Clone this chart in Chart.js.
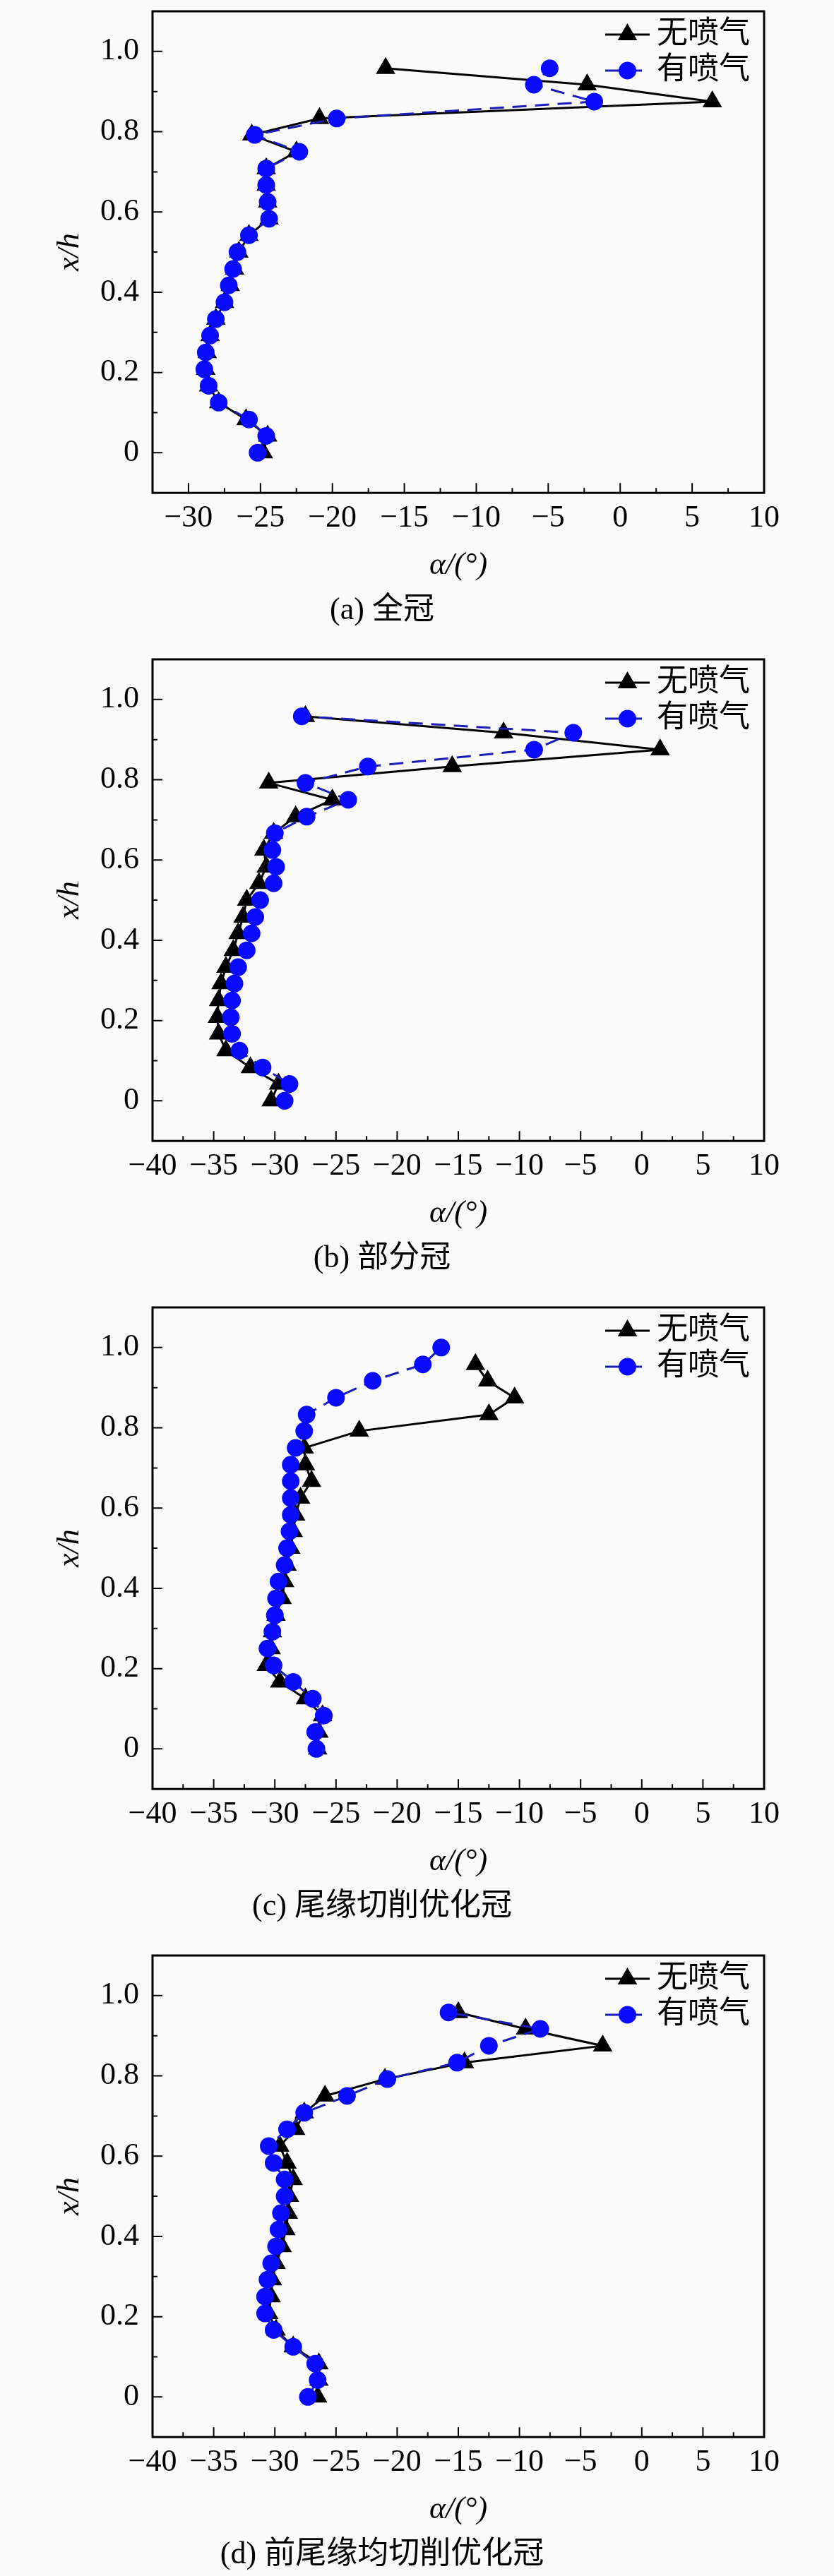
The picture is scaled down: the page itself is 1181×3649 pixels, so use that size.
<!DOCTYPE html>
<html>
<head>
<meta charset="utf-8">
<script src="https://cdn.jsdelivr.net/npm/chart.js@4.4.1/dist/chart.umd.min.js"></script>
<style>
  html, body { margin: 0; padding: 0; background: #fafafa; }
  body { width: 1181px; height: 3649px; overflow: hidden; position: relative; }
  .panel { position: absolute; left: 0; width: 1181px; height: 918px; }
</style>
</head>
<body>
<div class="panel" style="top:0px"><canvas id="chartA" width="1181" height="918"></canvas></div>
<div class="panel" style="top:918px"><canvas id="chartB" width="1181" height="918"></canvas></div>
<div class="panel" style="top:1836px"><canvas id="chartC" width="1181" height="918"></canvas></div>
<div class="panel" style="top:2754px"><canvas id="chartD" width="1181" height="918"></canvas></div>
<script>
// x/h positions of the measuring points (bottom to top)
const heights = [0, 0.042, 0.083, 0.125, 0.167, 0.208, 0.25, 0.292, 0.333, 0.375, 0.417, 0.458,
                 0.5, 0.542, 0.583, 0.625, 0.667, 0.708, 0.75, 0.792, 0.833, 0.875, 0.917, 0.958];
const heightsJetC = [0, 0.042, 0.083, 0.125, 0.167, 0.208, 0.25, 0.292, 0.333, 0.375, 0.417, 0.458,
                     0.5, 0.542, 0.583, 0.625, 0.667, 0.708, 0.75, 0.792, 0.833, 0.875, 0.917, 0.958, 1.0];

// alpha (deg), (a) full shroud
const noJetA = [-24.8, -24.5, -26.0, -27.9, -28.6, -28.8, -28.7, -28.5, -28.1, -27.5, -27.1, -26.8,
                -26.5, -25.8, -24.4, -24.5, -24.6, -24.6, -22.5, -25.6, -20.9, 6.4, -2.3, -16.3];
const jetA = [-25.2, -24.6, -25.8, -27.9, -28.6, -28.9, -28.8, -28.5, -28.1, -27.5, -27.2, -26.9,
              -26.6, -25.8, -24.4, -24.5, -24.6, -24.6, -22.3, -25.4, -19.7, -1.8, -6.0, -4.9];

// (b) partial shroud
const noJetB = [-30.3, -29.7, -32.0, -34.0, -34.6, -34.7, -34.6, -34.4, -34.0, -33.4, -33.0, -32.6,
                -32.3, -31.3, -30.7, -30.9, -30.1, -28.3, -25.3, -30.5, -15.5, 1.5, -11.3, -27.5];
const jetB = [-29.2, -28.8, -31.0, -32.9, -33.5, -33.6, -33.5, -33.3, -33.0, -32.3, -31.9, -31.6,
              -31.2, -30.1, -29.9, -30.2, -30.0, -27.4, -24.0, -27.5, -22.4, -8.8, -5.6, -27.8];

// (c) trailing edge cut
const noJetC = [-26.5, -26.4, -26.1, -27.5, -29.6, -30.7, -30.3, -30.2, -29.9, -29.4, -29.2, -29.0,
                -28.7, -28.5, -28.3, -27.9, -27.0, -27.5, -27.6, -23.1, -12.5, -10.4, -12.6, -13.6];
const jetC = [-26.6, -26.7, -26.0, -26.9, -28.5, -30.1, -30.6, -30.2, -30.0, -29.9, -29.7, -29.2,
              -29.0, -28.8, -28.7, -28.7, -28.7, -28.7, -28.3, -27.6, -27.4, -25.0, -22.0, -17.9, -16.4];

// (d) leading + trailing edge cut
const noJetD = [-26.5, -26.4, -26.4, -28.5, -29.9, -30.5, -30.3, -30.2, -29.9, -29.4, -29.1, -28.9,
                -28.8, -28.5, -29.0, -29.6, -28.3, -27.6, -25.9, -21.0, -14.5, -3.2, -9.5, -15.0];
const jetD = [-27.3, -26.5, -26.7, -28.5, -30.1, -30.8, -30.8, -30.6, -30.3, -29.9, -29.7, -29.5,
              -29.2, -29.2, -30.1, -30.5, -29.0, -27.6, -24.1, -20.8, -15.1, -12.5, -8.3, -15.8];

const xTicksA = [-30, -25, -20, -15, -10, -5, 0, 5, 10];
const xTicksB = [-40, -35, -30, -25, -20, -15, -10, -5, 0, 5, 10];
const yTicks = [0, 0.2, 0.4, 0.6, 0.8, 1.0];
const seriesNames = ['无喷气', '有喷气'];
const captions = ['(a) 全冠', '(b) 部分冠', '(c) 尾缘切削优化冠', '(d) 前尾缘均切削优化冠'];

const FONT = "'Liberation Serif', 'Noto Sans CJK SC', serif";

function fmtX(v) {
  return v < 0 ? '\u2212' + Math.abs(v) : String(v);
}
function fmtY(v) {
  return v === 0 ? '0' : v.toFixed(1);
}
function pairUp(alpha, h) {
  return h.map((y, i) => ({ x: alpha[i], y: y }));
}
function noPad(s) {
  s.paddingTop = 0; s.paddingBottom = 0; s.paddingLeft = 0; s.paddingRight = 0;
}

// frame, inward ticks and legend
const framePlugin = {
  id: 'frameTicks',
  afterDraw(chart) {
    const ctx = chart.ctx;
    const a = chart.chartArea;
    const xs = chart.scales.x, ys = chart.scales.y;
    const xt = chart.options.plugins.frameTicks.xTicks;
    ctx.save();
    ctx.strokeStyle = '#000';
    ctx.lineWidth = 2;
    ctx.beginPath();
    xt.forEach((v, i) => {
      const px = xs.getPixelForValue(v);
      ctx.moveTo(px, a.bottom); ctx.lineTo(px, a.bottom - 14);
      if (i < xt.length - 1) {
        const pm = xs.getPixelForValue((v + xt[i + 1]) / 2);
        ctx.moveTo(pm, a.bottom); ctx.lineTo(pm, a.bottom - 7);
      }
    });
    yTicks.forEach((v, i) => {
      const py = ys.getPixelForValue(v);
      ctx.moveTo(a.left, py); ctx.lineTo(a.left + 14, py);
      if (i < yTicks.length - 1) {
        const pm = ys.getPixelForValue((v + yTicks[i + 1]) / 2);
        ctx.moveTo(a.left, pm); ctx.lineTo(a.left + 7, pm);
      }
    });
    ctx.stroke();
    ctx.lineWidth = 3;
    ctx.strokeRect(a.left, a.top, a.right - a.left, a.bottom - a.top);

    // legend
    chart.data.datasets.forEach((ds, i) => {
      const y = a.top + 33 + i * 51;
      const x0 = a.right - 225, x1 = a.right - 162, xm = (x0 + x1) / 2;
      ctx.strokeStyle = ds.borderColor;
      ctx.lineWidth = ds.borderWidth;
      ctx.setLineDash(ds.borderDash || []);
      ctx.beginPath(); ctx.moveTo(x0, y); ctx.lineTo(x1, y); ctx.stroke();
      ctx.setLineDash([]);
      ctx.fillStyle = ds.pointBackgroundColor;
      ctx.strokeStyle = ds.pointBorderColor;
      Chart.helpers.drawPoint(ctx, { pointStyle: ds.pointStyle, radius: ds.pointRadius, borderWidth: 1, rotation: 0 }, xm, y);
      ctx.fillStyle = '#000';
      ctx.font = "44px " + FONT;
      ctx.textAlign = 'left';
      ctx.textBaseline = 'middle';
      ctx.fillText(ds.label, a.right - 152, y);
    });
    ctx.restore();
  }
};

function makeChart(id, noJet, hNoJet, jet, hJet, xTicks, xMin, caption) {
  return new Chart(document.getElementById(id), {
    type: 'scatter',
    data: {
      datasets: [
        {
          label: seriesNames[0],
          data: pairUp(noJet, hNoJet),
          showLine: true,
          borderColor: '#000000',
          borderWidth: 3,
          pointStyle: 'triangle',
          pointRadius: 13,
          pointBackgroundColor: '#000000',
          pointBorderColor: '#000000',
          order: 2
        },
        {
          label: seriesNames[1],
          data: pairUp(jet, hJet),
          showLine: true,
          borderColor: '#1c1cb8',
          borderWidth: 3,
          borderDash: [20, 12],
          pointStyle: 'circle',
          pointRadius: 11,
          pointBackgroundColor: '#0a0aff',
          pointBorderColor: '#0a0aff',
          order: 1
        }
      ]
    },
    options: {
      responsive: false,
      devicePixelRatio: 1,
      animation: false,
      layout: { padding: { left: 0, right: 99, top: 2, bottom: 0 } },
      plugins: {
        legend: { display: false },
        tooltip: { enabled: false },
        title: {
          display: true,
          position: 'bottom',
          text: caption,
          color: '#000',
          font: { family: FONT, size: 44, weight: 'normal' },
          padding: { top: 0, bottom: 26 }
        },
        frameTicks: { xTicks: xTicks }
      },
      scales: {
        x: {
          type: 'linear',
          min: xMin,
          max: 10,
          afterBuildTicks: s => { s.ticks = xTicks.map(v => ({ value: v })); },
          afterFit: s => { s.height = 141; noPad(s); },
          grid: { display: false, drawTicks: false },
          border: { display: false },
          ticks: {
            padding: 10,
            color: '#000',
            maxRotation: 0,
            autoSkip: false,
            font: { family: FONT, size: 44 },
            callback: v => fmtX(v)
          },
          title: {
            display: true,
            text: 'α/(°)',
            color: '#000',
            font: { family: FONT, size: 44, style: 'italic' },
            padding: { top: 0, bottom: 11 }
          }
        },
        y: {
          type: 'linear',
          min: -0.1,
          max: 1.1,
          afterBuildTicks: s => { s.ticks = yTicks.map(v => ({ value: v })); },
          afterFit: s => { s.width = 216; noPad(s); },
          grid: { display: false, drawTicks: false },
          border: { display: false },
          ticks: {
            padding: 19,
            color: '#000',
            autoSkip: false,
            font: { family: FONT, size: 44 },
            callback: v => fmtY(v)
          },
          title: {
            display: true,
            text: 'x/h',
            color: '#000',
            font: { family: FONT, size: 44, style: 'italic' },
            padding: { top: 73, bottom: 0 }
          }
        }
      }
    },
    plugins: [framePlugin]
  });
}

makeChart('chartA', noJetA, heights, jetA, heights, xTicksA, -32.5, captions[0]);
makeChart('chartB', noJetB, heights, jetB, heights, xTicksB, -40, captions[1]);
makeChart('chartC', noJetC, heights, jetC, heightsJetC, xTicksB, -40, captions[2]);
makeChart('chartD', noJetD, heights, jetD, heights, xTicksB, -40, captions[3]);
</script>
</body>
</html>
